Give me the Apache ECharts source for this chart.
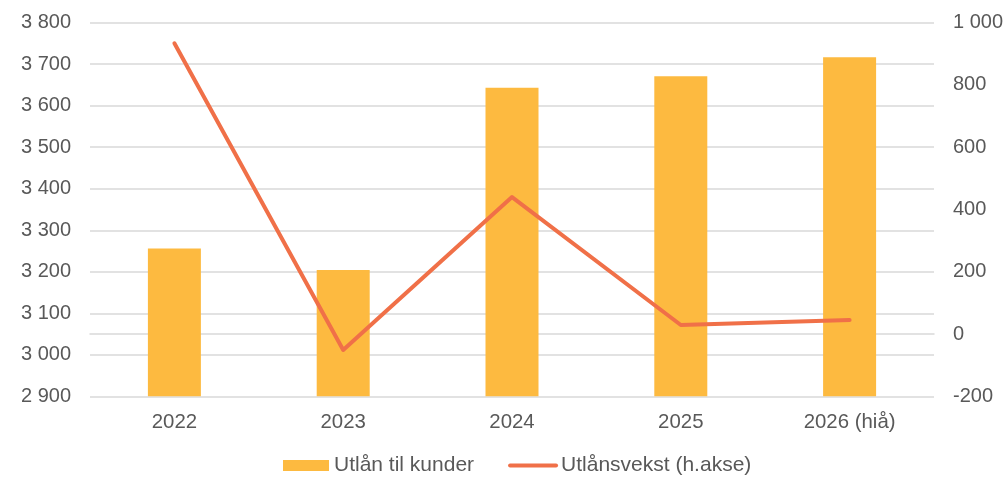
<!DOCTYPE html>
<html>
<head>
<meta charset="utf-8">
<script src="https://cdn.jsdelivr.net/npm/echarts@6/dist/echarts.min.js"></script>
<style>html,body{margin:0;padding:0;background:#fff}#c{width:1008px;height:477px}</style>
</head>
<body>
<div id="c"></div>
<script>
const categories = ['2022', '2023', '2024', '2025', '2026 (hiå)'];
const utlan = [3256, 3204, 3643, 3671, 3717];
const vekst = [934, -51, 440, 29, 45];
const leftTicks = [2900, 3800, 100];
const rightTicks = [-200, 1000, 200];

function fmt(v) {
  const s = String(Math.abs(v)).replace(/\B(?=(\d{3})+(?!\d))/g, ' ');
  return (v < 0 ? '-' : '') + s;
}
const font = 'Liberation Sans, Arial, sans-serif';
const txt = '#595959';
const chart = echarts.init(document.getElementById('c'), null, {renderer: 'canvas'});
chart.setOption({
  animation: false,
  textStyle: {fontFamily: font},
  grid: {left: 90, right: 74, top: 22.7, bottom: 80.7, containLabel: false},
  legend: {
    left: 283, top: 455, padding: 0,
    itemWidth: 46, itemHeight: 11, itemGap: 34,
    textStyle: {fontSize: 21, color: txt, fontFamily: font},
    data: [
      {name: 'Utlån til kunder', icon: 'rect'},
      {name: 'Utlånsvekst (h.akse)', itemStyle: {opacity: 0}, lineStyle: {width: 4, cap: 'round'}}
    ]
  },
  xAxis: {
    type: 'category', data: categories,
    axisTick: {show: false},
    axisLine: {lineStyle: {color: '#d9d9d9', width: 1.5}},
    axisLabel: {fontSize: 20.4, color: txt, fontFamily: font, margin: 16}
  },
  yAxis: [
    {type: 'value', min: leftTicks[0], max: leftTicks[1], interval: leftTicks[2],
     axisLabel: {fontSize: 20, color: txt, fontFamily: font, margin: 19, formatter: fmt},
     axisLine: {show: false}, axisTick: {show: false},
     splitLine: {lineStyle: {color: '#d9d9d9', width: 1.5}}},
    {type: 'value', min: rightTicks[0], max: rightTicks[1], interval: rightTicks[2],
     position: 'right',
     axisLabel: {fontSize: 20, color: txt, fontFamily: font, margin: 19, formatter: fmt},
     axisLine: {show: false}, axisTick: {show: false},
     splitLine: {show: false}}
  ],
  series: [
    {name: 'Utlån til kunder', type: 'bar', data: utlan, yAxisIndex: 0,
     barWidth: 53, itemStyle: {color: '#FDBA40'}},
    {name: 'Utlånsvekst (h.akse)', type: 'line', data: vekst, yAxisIndex: 1,
     symbol: 'none', lineStyle: {color: '#F07048', width: 4, cap: 'round', join: 'round'},
     itemStyle: {color: '#F07048'}}
  ]
});
</script>
</body>
</html>
